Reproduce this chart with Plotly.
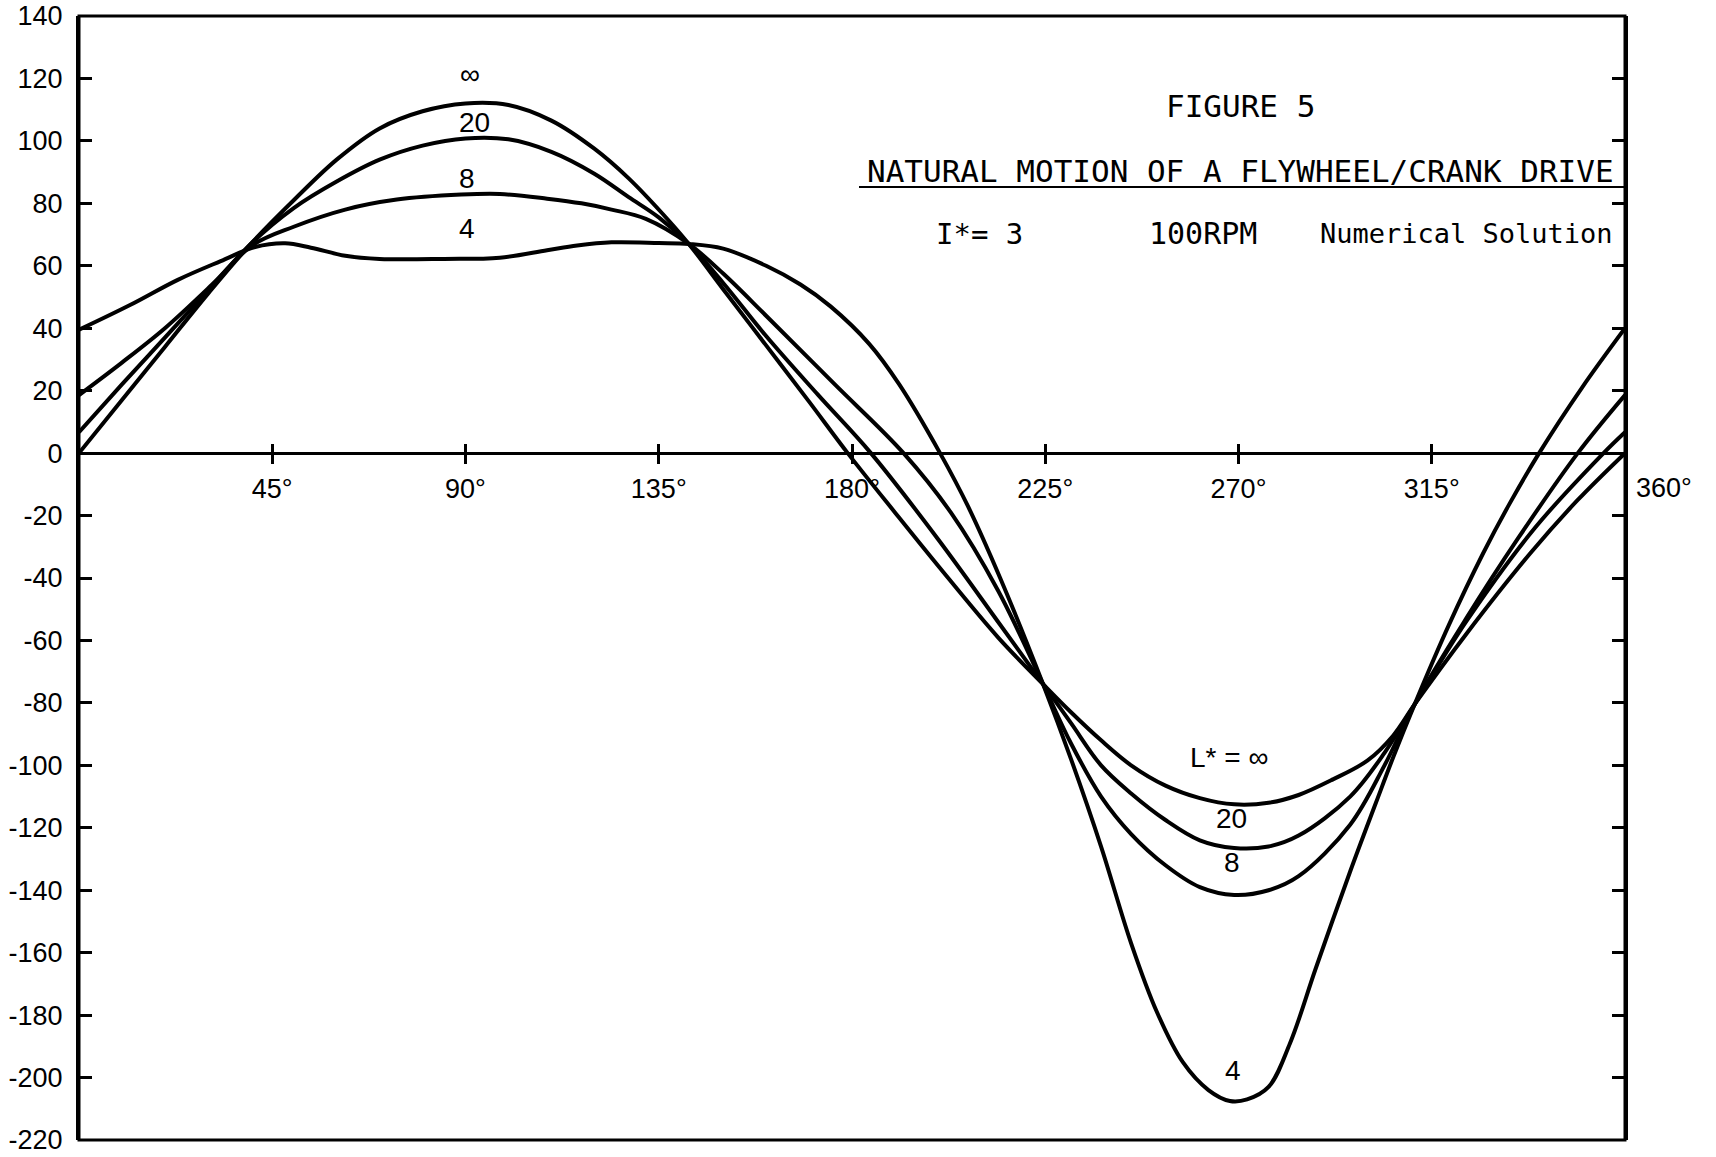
import plotly.graph_objects as go

# ---- data (crank angle in degrees, value) ----
ANG_INF = [0, 10, 20, 30, 40, 50, 60, 70, 80, 90, 100, 110, 120, 128, 136, 142, 150, 160, 170, 179, 190, 200, 214, 224.5, 231, 238, 245, 253, 261, 269, 277, 284, 292, 300, 306, 311, 323, 338, 349, 360]
VAL_INF = [0, 17, 34, 51, 67, 81, 94, 104, 109.5, 112, 111.5, 106.5, 97.5, 88, 76.5, 67, 52.5, 34.5, 16.5, 0, -19, -36, -59, -74, -83, -92, -100, -106.5, -110.5, -112.5, -112, -109.5, -104.5, -98.5, -90.5, -80.5, -58, -32, -15, 0]

ANG_20 = [0, 10, 20, 30, 40, 50, 60, 70, 80, 90, 100, 110, 120, 128, 135, 142, 150, 160, 172, 184.4, 200, 214, 224.5, 231, 238, 245, 253, 261, 269, 277, 284, 296, 304, 311, 323, 339, 355, 360]
VAL_20 = [6.7, 22, 37, 52, 67, 78.5, 87, 94, 98.5, 100.8, 100.5, 96.5, 89.5, 82, 75.5, 67, 54.5, 37.5, 18.8, 0, -27.5, -54, -74, -86.5, -100, -109, -117.5, -124, -126.5, -126, -122.5, -110, -96, -80.5, -54, -24, 0, 6.7]

ANG_8 = [0, 10, 20, 31, 40.3, 50, 62, 74, 89, 98, 109, 117, 124, 132, 142, 150, 160, 176, 192, 203, 214, 224.5, 231, 238, 245, 253, 261, 269, 277, 284, 296, 304, 311, 323, 335, 349, 360]
VAL_8 = [18.6, 29, 40, 54, 66.5, 72.5, 78, 81.2, 82.8, 83, 81.5, 80, 78, 75, 67, 57.5, 44, 22, 0, -19, -44, -74, -93, -110, -122, -132, -139, -141.5, -140, -135.5, -119, -100, -80.5, -53, -27.5, 0, 18.6]

ANG_4 = [0, 12, 23, 33, 41, 48, 54, 62, 70, 85, 98, 109, 116, 124, 135, 142, 150, 160, 168, 175, 184, 191, 200.5, 207, 214.5, 224.5, 231, 238, 245, 251, 257, 263, 268, 272, 277, 282, 288, 296, 302, 306, 311, 319, 327, 333, 340, 350, 360]
VAL_4 = [39.5, 47.5, 55.5, 61.5, 66, 67.2, 65.8, 63.2, 62.2, 62.2, 62.6, 65, 66.5, 67.5, 67.3, 67, 65.5, 60, 54, 47, 35, 22, 0, -17, -40, -74, -98, -126, -157, -179, -195, -204, -207.5, -207, -203, -189, -165, -134, -112, -97.5, -80.5, -55, -32, -16.5, 0, 21, 40]

Y_TICKS = [-220, -200, -180, -160, -140, -120, -100, -80, -60, -40, -20, 0, 20, 40, 60, 80, 100, 120, 140]
Y_TICK_TEXT = ["-220", "-200", "-180", "-160", "-140", "-120", "-100", "-80", "-60", "-40", "-20", "0", "20", "40", "60", "80", "100", "120", "140"]
X_TICKS = [45, 90, 135, 180, 225, 270, 315]
X_TICK_TEXT = ["45°", "90°", "135°", "180°", "225°", "270°", "315°"]

# curve labels: (text, angle, value)
TOP_LABELS = [("∞", 91, 121.3), ("20", 92, 105.9), ("8", 90.4, 88), ("4", 90.4, 71.9)]
BOTTOM_LABELS = [("L* = ∞", 267.8, -97.4), ("20", 268.3, -117), ("8", 268.6, -131.1), ("4", 268.8, -197.7)]

W, H = 1716, 1157
L, R, T, B = 79, 91, 16, 17
PW, PH = W - L - R, H - T - B


def px(x):
    return (x - L) / PW


def py(y):
    return (H - B - y) / PH


SANS = "Liberation Sans, Arial, sans-serif"
MONO = "DejaVu Sans Mono, monospace"

fig = go.Figure()
for ang, val in [(ANG_INF, VAL_INF), (ANG_20, VAL_20), (ANG_8, VAL_8), (ANG_4, VAL_4)]:
    fig.add_trace(go.Scatter(x=ang, y=val, mode="lines",
                             line=dict(color="black", width=4, shape="spline", smoothing=1.0),
                             showlegend=False, hoverinfo="skip"))
# carrier for the inward tick set of the horizontal axis
fig.add_trace(go.Scatter(x=[0], y=[0], xaxis="x2", mode="markers", marker=dict(opacity=0),
                         showlegend=False, hoverinfo="skip"))

zero_pos = (0 - (-220)) / (140 - (-220))

fig.update_layout(
    width=W, height=H, margin=dict(l=L, r=R, t=T, b=B, pad=0, autoexpand=False),
    paper_bgcolor="white", plot_bgcolor="white",
    xaxis=dict(range=[0, 360], anchor="free", position=zero_pos, showline=True, linecolor="black",
               linewidth=3, ticks="outside", ticklen=9, tickwidth=3, tickcolor="black",
               tickvals=X_TICKS, ticktext=X_TICK_TEXT, showgrid=False, zeroline=False,
               automargin=False,
               tickfont=dict(family=SANS, size=27, color="black"), ticklabelstandoff=1),
    xaxis2=dict(range=[0, 360], overlaying="x", anchor="free", position=zero_pos, showline=False,
                ticks="inside", ticklen=9, tickwidth=3, tickcolor="black", tickvals=X_TICKS,
                showticklabels=False, showgrid=False, zeroline=False, automargin=False),
    yaxis=dict(range=[-220, 140], showline=True, linecolor="black", linewidth=3, mirror="ticks",
               ticks="inside", ticklen=13, tickwidth=3, tickcolor="black",
               tickvals=Y_TICKS, ticktext=Y_TICK_TEXT, showgrid=False, zeroline=False,
               automargin=False,
               tickfont=dict(family=SANS, size=27, color="black"), ticklabelstandoff=8),
)

# frame
fig.add_shape(type="rect", xref="paper", yref="paper", x0=0, x1=1, y0=0, y1=1,
              line=dict(color="black", width=3), fillcolor="rgba(0,0,0,0)")
# title underline
fig.add_shape(type="line", xref="paper", yref="paper", x0=px(859), x1=1, y0=py(187), y1=py(187),
              line=dict(color="black", width=2))

ann = []
ann.append(dict(text="FIGURE 5", x=px(1240), y=py(106), xanchor="center", yanchor="middle",
                font=dict(family=MONO, size=31, color="black")))
ann.append(dict(text="NATURAL MOTION OF A FLYWHEEL/CRANK DRIVE", x=px(1240), y=py(171),
                xanchor="center", yanchor="middle", font=dict(family=MONO, size=31, color="black")))
ann.append(dict(text="I*= 3", x=px(934), y=py(234), xanchor="left", yanchor="middle",
                font=dict(family=MONO, size=29, color="black")))
ann.append(dict(text="100RPM", x=px(1147), y=py(234), xanchor="left", yanchor="middle",
                font=dict(family=MONO, size=30, color="black")))
ann.append(dict(text="Numerical Solution", x=px(1615), y=py(234), xanchor="right", yanchor="middle",
                font=dict(family=MONO, size=27, color="black")))
ann.append(dict(text="360°", x=px(1634), y=py(488), xanchor="left", yanchor="middle",
                font=dict(family=SANS, size=27, color="black")))
for txt, a, v in TOP_LABELS + BOTTOM_LABELS:
    ann.append(dict(text=txt, x=a, y=v, xref="x", yref="y", xanchor="center", yanchor="middle",
                    font=dict(family=SANS, size=28, color="black")))
for a in ann:
    a.setdefault("xref", "paper")
    a.setdefault("yref", "paper")
    a["showarrow"] = False
fig.update_layout(annotations=ann)

fig.write_html("out.html")
